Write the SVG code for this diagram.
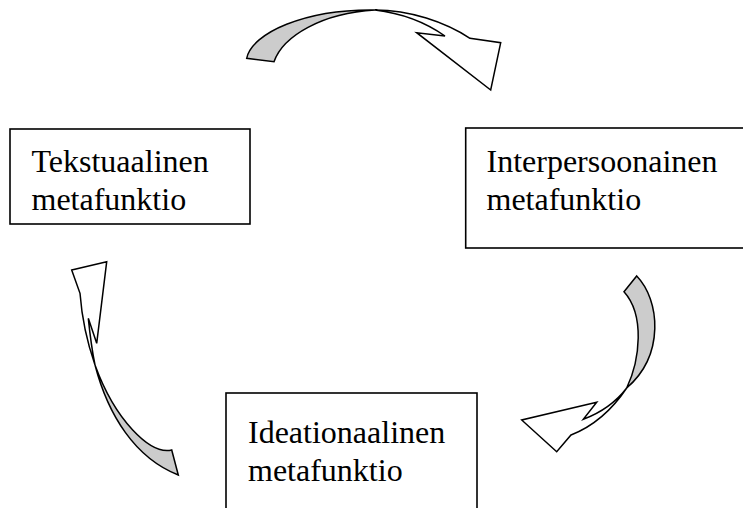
<svg xmlns="http://www.w3.org/2000/svg" width="743" height="508" viewBox="0 0 743 508">
<style>
.box{fill:#fff;stroke:#000;stroke-width:1.6}
.lbl{font-family:"Liberation Serif","Times New Roman",serif;font-size:32px;fill:#000}
.back{fill:#cccccc;stroke:#000;stroke-width:1.5;stroke-linejoin:miter}
.front{fill:#fff;stroke:#000;stroke-width:1.5;stroke-linejoin:miter}
</style>
<rect width="743" height="508" fill="#fff"/>
<g id="node-tekstuaalinen">
<rect class="box" x="10" y="129" width="240" height="95"/>
<text class="lbl" x="31.5" y="171.5">Tekstuaalinen</text>
<text class="lbl" x="31.5" y="209.5">metafunktio</text>
</g>
<g id="node-interpersoonainen">
<rect class="box" x="465.7" y="128" width="290" height="120"/>
<text class="lbl" x="486.5" y="171.5">Interpersoonainen</text>
<text class="lbl" x="486.5" y="209.5">metafunktio</text>
</g>
<g id="node-ideationaalinen">
<rect class="box" x="226" y="393" width="251" height="130"/>
<text class="lbl" x="248" y="443">Ideationaalinen</text>
<text class="lbl" x="248" y="481">metafunktio</text>
</g>
<g id="connectors">
<g id="arrow-top">
<path class="back" d="M246.7,58.3 C252,33 305,9 375,10 C322,13 283,36 274,61.7 Z"/>
<path class="front" d="M375,10 C410,10 445,22 470,38.3 L500.7,42.7 L490.7,90 L416.7,32.7 L445,36 C425,22 400,13 375,10 Z"/>
</g>
<g id="arrow-right">
<path class="back" d="M624,291.7 L636.7,276 C660,300 665,355 626.7,388 C640,360 645,315 624,291.7 Z"/>
<path class="front" d="M626.7,388 C612,410 594,426 571,435 L556.7,451.7 L521.7,420 L596.7,402.3 L583.3,419.3 C600,413 616,402 626.7,388 Z"/>
</g>
<g id="arrow-left">
<path class="back" d="M95,365 C108,415 135,458 178.3,475 L171.7,450 C150,455 115,420 95,365 Z"/>
<path class="front" d="M71.7,270 L106.7,261.7 L96.7,343.3 L88.3,318.3 C90,335 92,350 95,365 C88,345 82,320 80,293.3 Z"/>
</g>
</g>
</svg>
